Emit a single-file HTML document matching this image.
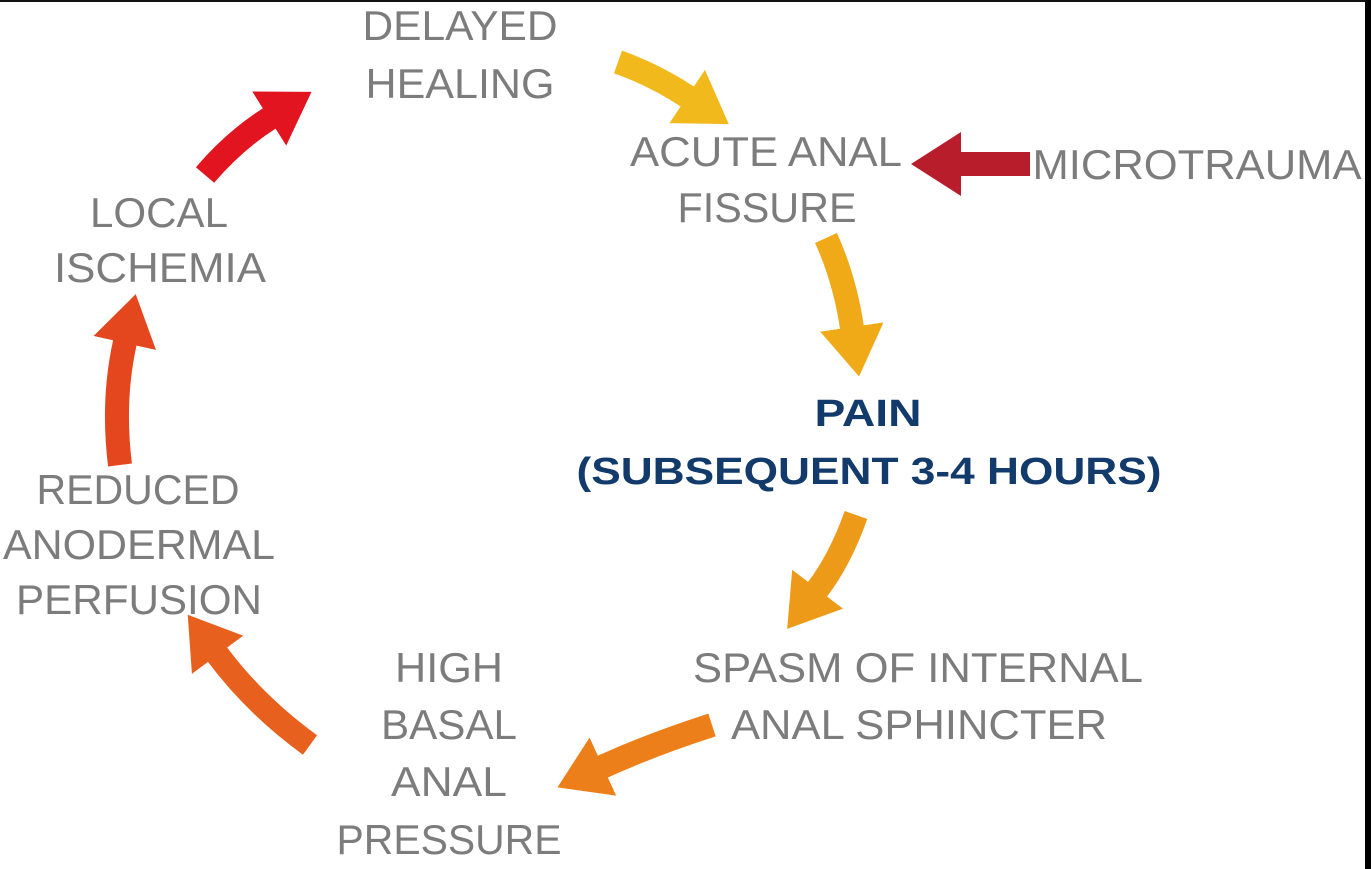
<!DOCTYPE html>
<html><head><meta charset="utf-8"><style>
html,body{margin:0;padding:0;background:#fff;width:1371px;height:869px;overflow:hidden}
svg{display:block}
.t{font-family:"Liberation Sans",sans-serif;font-size:42px;fill:#7c7c7c}
.b{font-family:"Liberation Sans",sans-serif;font-size:38px;font-weight:bold;fill:#123b6c}
</style></head><body>
<svg width="1371" height="869" viewBox="0 0 1371 869">
<defs>
<marker id="m1" markerUnits="userSpaceOnUse" markerWidth="52" markerHeight="64" viewBox="0 0 52 64" refX="1" refY="32" orient="auto"><path d="M0 0 L50 32 L0 64Z" fill="#e1141f"/></marker>
<marker id="m2" markerUnits="userSpaceOnUse" markerWidth="52" markerHeight="64" viewBox="0 0 52 64" refX="1" refY="32" orient="auto"><path d="M0 0 L50 32 L0 64Z" fill="#f1b91c"/></marker>
<marker id="m3" markerUnits="userSpaceOnUse" markerWidth="52" markerHeight="64" viewBox="0 0 52 64" refX="1" refY="32" orient="auto"><path d="M0 0 L50 32 L0 64Z" fill="#b81d2b"/></marker>
<marker id="m4" markerUnits="userSpaceOnUse" markerWidth="52" markerHeight="64" viewBox="0 0 52 64" refX="1" refY="32" orient="auto"><path d="M0 0 L50 32 L0 64Z" fill="#f0aa18"/></marker>
<marker id="m5" markerUnits="userSpaceOnUse" markerWidth="52" markerHeight="64" viewBox="0 0 52 64" refX="1" refY="32" orient="auto"><path d="M0 0 L50 32 L0 64Z" fill="#ed9a19"/></marker>
<marker id="m6" markerUnits="userSpaceOnUse" markerWidth="52" markerHeight="64" viewBox="0 0 52 64" refX="1" refY="32" orient="auto"><path d="M0 0 L50 32 L0 64Z" fill="#ec7f1a"/></marker>
<marker id="m7" markerUnits="userSpaceOnUse" markerWidth="52" markerHeight="64" viewBox="0 0 52 64" refX="1" refY="32" orient="auto"><path d="M0 0 L50 32 L0 64Z" fill="#e8601e"/></marker>
<marker id="m8" markerUnits="userSpaceOnUse" markerWidth="52" markerHeight="64" viewBox="0 0 52 64" refX="1" refY="32" orient="auto"><path d="M0 0 L50 32 L0 64Z" fill="#e4471e"/></marker>
</defs>
<g fill="none" stroke-width="24">
<path d="M205 175 Q235 140 270 118" stroke="#e1141f" marker-end="url(#m1)"/>
<path d="M618 62 Q655 75 688 97" stroke="#f1b91c" marker-end="url(#m2)"/>
<path d="M1030 164 L960 164" stroke="#b81d2b" marker-end="url(#m3)"/>
<path d="M826 238 Q845 280 852 328" stroke="#f0aa18" marker-end="url(#m4)"/>
<path d="M856 515 Q840 560 817 590" stroke="#ed9a19" marker-end="url(#m5)"/>
<path d="M712 725 Q650 745 602 767" stroke="#ec7f1a" marker-end="url(#m6)"/>
<path d="M310 745 Q255 705 217 654" stroke="#e8601e" marker-end="url(#m7)"/>
<path d="M120 465 Q112 400 125 342" stroke="#e4471e" marker-end="url(#m8)"/>
</g>
<g class="t" text-anchor="middle">
<text x="460" y="40" textLength="195" lengthAdjust="spacingAndGlyphs">DELAYED</text>
<text x="460" y="98" textLength="189" lengthAdjust="spacingAndGlyphs">HEALING</text>
<text x="766" y="166" textLength="272" lengthAdjust="spacingAndGlyphs">ACUTE ANAL</text>
<text x="767" y="222" textLength="179" lengthAdjust="spacingAndGlyphs">FISSURE</text>
<text x="1197" y="179" textLength="329" lengthAdjust="spacingAndGlyphs">MICROTRAUMA</text>
<text x="159" y="227" textLength="138" lengthAdjust="spacingAndGlyphs">LOCAL</text>
<text x="160" y="282" textLength="212" lengthAdjust="spacingAndGlyphs">ISCHEMIA</text>
<text x="918" y="682" textLength="450" lengthAdjust="spacingAndGlyphs">SPASM OF INTERNAL</text>
<text x="919" y="739" textLength="376" lengthAdjust="spacingAndGlyphs">ANAL SPHINCTER</text>
<text x="449" y="682" textLength="108" lengthAdjust="spacingAndGlyphs">HIGH</text>
<text x="449" y="739" textLength="136" lengthAdjust="spacingAndGlyphs">BASAL</text>
<text x="449" y="796" textLength="116" lengthAdjust="spacingAndGlyphs">ANAL</text>
<text x="449" y="854" textLength="225" lengthAdjust="spacingAndGlyphs">PRESSURE</text>
<text x="138" y="504" textLength="203" lengthAdjust="spacingAndGlyphs">REDUCED</text>
<text x="139" y="559" textLength="272" lengthAdjust="spacingAndGlyphs">ANODERMAL</text>
<text x="139" y="614" textLength="246" lengthAdjust="spacingAndGlyphs">PERFUSION</text>
</g>
<g class="b" text-anchor="middle">
<text x="868" y="426" textLength="107" lengthAdjust="spacingAndGlyphs">PAIN</text>
<text x="869" y="484" textLength="585" lengthAdjust="spacingAndGlyphs">(SUBSEQUENT 3-4 HOURS)</text>
</g>
<rect x="0" y="0" width="1365" height="2" fill="#111"/>
<rect x="1365" y="0" width="6" height="869" fill="#000"/>
</svg>
</body></html>
